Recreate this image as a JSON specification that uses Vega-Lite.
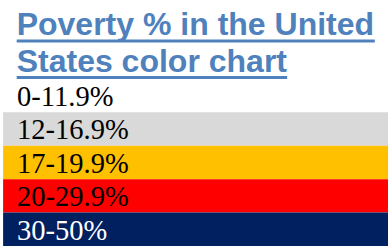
{
  "$schema": "https://vega.github.io/schema/vega-lite/v6.json",
  "width": 388,
  "height": 246,
  "autosize": {"type": "fit", "contains": "padding"},
  "padding": 0,
  "background": "white",
  "config": {"view": {"stroke": null}},
  "datasets": {
    "rows": [
      {"label": "0-11.9%", "start": 0, "end": 1},
      {"label": "12-16.9%", "start": 1, "end": 2},
      {"label": "17-19.9%", "start": 2, "end": 3},
      {"label": "20-29.9%", "start": 3, "end": 4},
      {"label": "30-50%", "start": 4, "end": 5}
    ],
    "title": [
      {"text": "Poverty % in the United", "line": -1.313},
      {"text": "States color chart", "line": -0.206}
    ]
  },
  "layer": [
    {
      "data": {"name": "rows"},
      "mark": {"type": "rect"},
      "encoding": {
        "x": {"datum": 0.8, "type": "quantitative", "scale": {"domain": [0, 100]}, "axis": null},
        "x2": {"datum": 100},
        "y": {"field": "start", "type": "quantitative", "scale": {"domain": [-2.36, 5], "reverse": true, "nice": false, "zero": false}, "axis": null},
        "y2": {"field": "end"},
        "color": {
          "field": "label", "type": "nominal", "legend": null,
          "scale": {"domain": ["0-11.9%", "12-16.9%", "17-19.9%", "20-29.9%", "30-50%"],
                    "range": ["#ffffff", "#d9d9d9", "#ffc000", "#ff0000", "#002060"]}
        }
      }
    },
    {
      "data": {"name": "rows"},
      "mark": {"type": "text", "font": "Liberation Serif", "fontSize": 28.5, "align": "left", "baseline": "alphabetic", "dy": 27},
      "encoding": {
        "x": {"datum": 4.4, "type": "quantitative"},
        "y": {"field": "start", "type": "quantitative"},
        "text": {"field": "label"},
        "color": {"condition": {"test": "datum.label == '30-50%'", "value": "#ffffff"}, "value": "#000000"}
      }
    },
    {
      "data": {"name": "title"},
      "mark": {"type": "text", "font": "Liberation Sans", "fontWeight": "bold", "fontSize": 32, "align": "left", "baseline": "alphabetic", "color": "#4f81bd"},
      "encoding": {
        "x": {"datum": 4.3, "type": "quantitative"},
        "y": {"field": "line", "type": "quantitative"},
        "text": {"field": "text"}
      }
    },
    {
      "data": {"values": [{"line": "first"}]},
      "mark": {"type": "rule", "color": "#4f81bd", "strokeWidth": 3},
      "encoding": {
        "x": {"datum": 4.3, "type": "quantitative"},
        "x2": {"datum": 96.6},
        "y": {"datum": -1.134, "type": "quantitative"}
      }
    },
    {
      "data": {"values": [{"line": "second"}]},
      "mark": {"type": "rule", "color": "#4f81bd", "strokeWidth": 3},
      "encoding": {
        "x": {"datum": 4.3, "type": "quantitative"},
        "x2": {"datum": 74},
        "y": {"datum": -0.04, "type": "quantitative"}
      }
    }
  ]
}
